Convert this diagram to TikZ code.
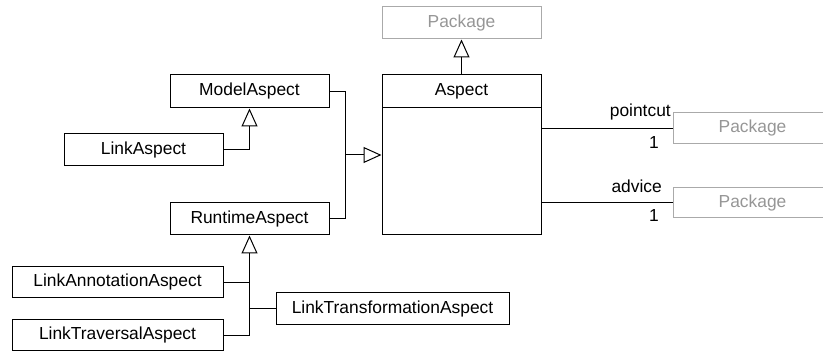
\documentclass[tikz,border=0pt]{standalone}
\usepackage{fontspec}
\setmainfont{Liberation Sans}
\usetikzlibrary{arrows.meta}
\definecolor{pkgtext}{RGB}{150,150,150}
\definecolor{pkgline}{RGB}{170,170,170}
\begin{document}
\begin{tikzpicture}[x=1pt,y=-1pt,
  every node/.style={font=\fontsize{17.4}{20}\selectfont},
  box/.style={draw=black, line width=1pt, rectangle, inner sep=0pt, minimum width=159pt, minimum height=32pt},
  pkg/.style={box, draw=pkgline, text=pkgtext},
  lbl/.style={inner sep=0pt},
  conn/.style={line width=1pt},
  gen/.style={conn, -{Triangle[open, length=18pt, width=16pt, fill=white]}}]
\useasboundingbox (0,0) rectangle (823,352);
% nodes
\node[pkg] (pkgTop) at (461.5,23) {Package};
\node[box, minimum height=160pt] (aspect) at (461.5,155) {};
\node[box, minimum height=33pt] (asphead) at (461.5,91.5) {Aspect};
\node[box, minimum height=33pt] (model) at (249.5,91.5) {ModelAspect};
\node[box] (link) at (143.5,150) {LinkAspect};
\node[box] (runtime) at (249.5,219) {RuntimeAspect};
\node[box, minimum width=211pt, minimum height=31pt] (linkAnn) at (117.5,282.5) {LinkAnnotationAspect};
\node[box, minimum width=211pt, minimum height=31pt] (linkTrav) at (117.5,335.5) {LinkTraversalAspect};
\node[box, minimum width=233pt] (linkTrans) at (392.5,309) {LinkTransformationAspect};
\node[pkg, minimum height=31pt] (pkgP) at (752.5,128.5) {Package};
\node[pkg, minimum height=30pt] (pkgA) at (752.5,203) {Package};
% labels
\node[lbl, anchor=base east] (lpc) at (671,117) {pointcut};
\node[lbl, anchor=base east] (lpc1) at (659,149) {1};
\node[lbl, anchor=base east] (lad) at (662,193) {advice};
\node[lbl, anchor=base east] (lad1) at (659,222) {1};
% connectors
\draw[gen] (asphead.north) -- (pkgTop.south);
\draw[gen] (link.east) -| (model.south);
\coordinate (j1) at (345,155);
\draw[conn] (model.east) -| (j1);
\draw[conn] (runtime.east) -| (j1);
\draw[gen] (j1) -- (j1 -| aspect.west);
\draw[gen] (linkTrav.east) -| (runtime.south);
\draw[conn] (linkAnn.east) -- (linkAnn.east -| runtime.south);
\draw[conn] (linkTrans.west) -- (linkTrans.west -| runtime.south);
\draw[conn] (aspect.east |- pkgP.west) -- (pkgP.west);
\draw[conn] (aspect.east |- pkgA.west) -- (pkgA.west);
\end{tikzpicture}
\end{document}
